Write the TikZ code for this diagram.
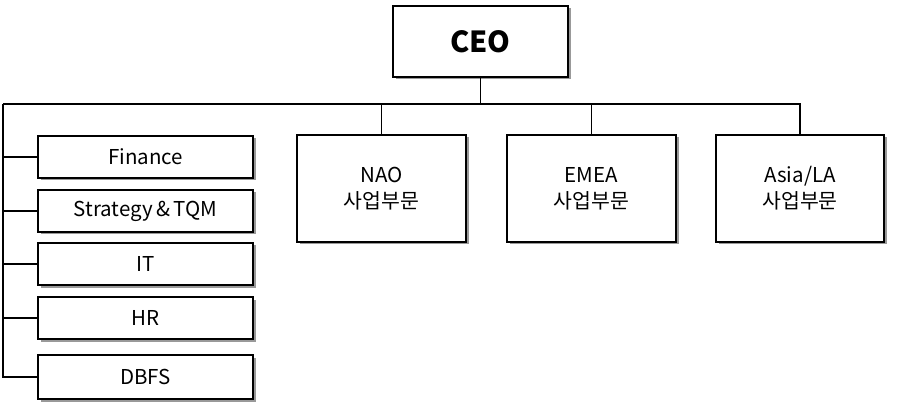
\documentclass[tikz,border=0pt]{standalone}
\usepackage{fontspec}
\setmainfont{Noto Sans CJK KR}
\usetikzlibrary{shadows}
\begin{document}
\begin{tikzpicture}[x=1pt,y=-1pt,
  box/.style={draw,line width=1.3pt,fill=white,drop shadow={shadow xshift=2.5pt,shadow yshift=-2.5pt,fill=black!40,opacity=1},align=center,inner sep=0pt,font=\fontsize{20.5}{26}\selectfont},
  ln/.style={line width=1.3pt}]
\useasboundingbox (0,0) rectangle (898,417);
\node[box,minimum width=175pt,minimum height=71pt,font=\fontsize{29}{34}\selectfont\bfseries] (ceo) at (480.5,41.5) {CEO};
\node[box,minimum width=215pt,minimum height=42pt] (fin) at (145.5,157) {Finance};
\node[box,minimum width=215pt,minimum height=42pt] (str) at (145.5,211) {Strategy\,\&\,TQM};
\node[box,minimum width=215pt,minimum height=42pt] (it) at (145.5,264) {IT};
\node[box,minimum width=215pt,minimum height=42pt] (hr) at (145.5,318) {HR};
\node[box,minimum width=215pt,minimum height=44pt] (db) at (145.5,377) {DBFS};
\node[box,minimum width=169pt,minimum height=107pt] (nao) at (381.5,188.5) {NAO\\사업부문};
\node[box,minimum width=169pt,minimum height=107pt] (emea) at (591.5,188.5) {EMEA\\사업부문};
\node[box,minimum width=168pt,minimum height=107pt] (asia) at (800,188.5) {Asia/LA\\사업부문};
\coordinate (j) at (480.5,104);
\coordinate (l) at (3,104);
\coordinate (r) at (800,104);
\draw[ln] (ceo.south) -- (j);
\draw[ln] (l) -- (r) -- (asia.north);
\draw[ln] (emea.north) -- (emea.north |- j);
\draw[ln] (nao.north) -- (nao.north |- j);
\draw[ln] (l) -- (3,377) -- (db.west);
\foreach \n in {fin,str,it,hr}{\draw[ln] (\n.west) -- (\n.west -| l);}
\end{tikzpicture}
\end{document}
